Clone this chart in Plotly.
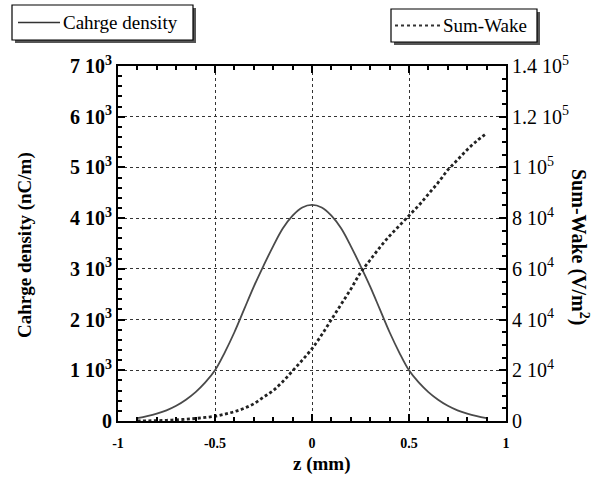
import plotly.graph_objects as go

# ---------------- data ----------------
z_density = [-0.9, -0.85, -0.8, -0.75, -0.7, -0.65, -0.6, -0.55, -0.5, -0.45,
             -0.4, -0.35, -0.3, -0.25, -0.2, -0.15, -0.1, -0.05, 0.0,
             0.05, 0.1, 0.15, 0.2, 0.25, 0.3, 0.35, 0.4, 0.45, 0.5,
             0.55, 0.6, 0.65, 0.7, 0.75, 0.8, 0.85, 0.9]
charge_density = [55, 95, 145, 210, 300, 420, 570, 760, 1000, 1350,
                  1750, 2200, 2650, 3060, 3450, 3800, 4050, 4210, 4260,
                  4210, 4050, 3800, 3450, 3060, 2650, 2200, 1750, 1350, 1000,
                  760, 570, 420, 300, 210, 145, 95, 55]

z_wake = z_density
sum_wake = [0, 50, 150, 280, 450, 700, 1000, 1400, 1900, 2700,
            3700, 5000, 6800, 9400, 12000, 15600, 19800, 24000, 28500,
            34000, 40000, 46000, 52000, 58500, 63500, 68500, 73000, 77000, 81000,
            85000, 89500, 94000, 99000, 103000, 107000, 110500, 113500]

x_ticks = [-1, -0.5, 0, 0.5, 1]
x_ticktext = ["-1", "-0.5", "0", "0.5", "1"]
y1_ticks = [0, 1000, 2000, 3000, 4000, 5000, 6000, 7000]
y1_ticktext = ["0"] + [f"{k} 10<sup>3</sup>" for k in range(1, 8)]
y2_ticks = [0, 20000, 40000, 60000, 80000, 100000, 120000, 140000]
y2_ticktext = ["0", "2 10<sup>4</sup>", "4 10<sup>4</sup>", "6 10<sup>4</sup>",
               "8 10<sup>4</sup>", "1 10<sup>5</sup>", "1.2 10<sup>5</sup>",
               "1.4 10<sup>5</sup>"]

legend1_text = "Cahrge density"
legend2_text = "Sum-Wake"
x_title = "z (mm)"
y1_title = "Cahrge density (nC/m)"
y2_title = "Sum-Wake (V/m<sup>2</sup>)"

# ---------------- layout geometry ----------------
W, H = 605, 486
L, R, T, B = 118, 506, 66, 421
FONT = "Liberation Serif, Times New Roman, serif"


def px(x):
    return (x - L) / (R - L)


def py(y):
    return (B - y) / (B - T)


fig = go.Figure()
fig.add_trace(go.Scatter(x=z_density, y=charge_density, mode="lines",
                         line=dict(color="#4a4a4a", width=1.8, shape="spline",
                                   smoothing=1),
                         name=legend1_text, showlegend=False))
fig.add_trace(go.Scatter(x=z_wake, y=sum_wake, mode="lines", yaxis="y2",
                         line=dict(color="#222222", width=2.8, dash="3px,2.5px",
                                   shape="spline"),
                         name=legend2_text, showlegend=False))

axis_common = dict(showline=True, linecolor="black", linewidth=2,
                   ticks="inside", tickcolor="black", ticklen=7, tickwidth=1.5,
                   zeroline=False)

fig.update_layout(
    width=W, height=H,
    margin=dict(l=L, r=W - R, t=T, b=H - B, pad=0),
    paper_bgcolor="white", plot_bgcolor="white",
    font=dict(family=FONT, color="black"),
    xaxis=dict(range=[-1, 1], tickvals=x_ticks, ticktext=x_ticktext,
               tickfont=dict(family=FONT, size=14, weight="bold"), mirror="ticks",
               ticklabelstandoff=8,
               showgrid=True, gridcolor="#333333", griddash="dot", gridwidth=1,
               minor=dict(dtick=0.1, ticks="inside", ticklen=4, tickcolor="black",
                          showgrid=False),
               **axis_common),
    yaxis=dict(range=[0, 7000], tickvals=y1_ticks, ticktext=y1_ticktext,
               tickfont=dict(family=FONT, size=20, weight="bold"),
               showgrid=True, gridcolor="#333333", griddash="dot", gridwidth=1,
               minor=dict(dtick=200, ticks="inside", ticklen=4, tickcolor="black",
                          showgrid=False),
               **axis_common),
    yaxis2=dict(range=[0, 140000], tickvals=y2_ticks, ticktext=y2_ticktext,
                overlaying="y", side="right", showgrid=False,
                tickfont=dict(family=FONT, size=20),
                minor=dict(dtick=5000, ticks="inside", ticklen=4, tickcolor="black",
                           showgrid=False),
                **axis_common),
    showlegend=False,
)

# axis titles
fig.add_annotation(text=x_title, xref="paper", yref="paper", x=px(322), y=py(464),
                   showarrow=False, font=dict(family=FONT, size=19, weight="bold"),
                   xanchor="center", yanchor="middle")
fig.add_annotation(text=y1_title, xref="paper", yref="paper", x=px(25), y=py(245),
                   showarrow=False, textangle=-90,
                   font=dict(family=FONT, size=19, weight="bold"),
                   xanchor="center", yanchor="middle")
fig.add_annotation(text=y2_title, xref="paper", yref="paper", x=px(580), y=py(247),
                   showarrow=False, textangle=90,
                   font=dict(family=FONT, size=20, weight="bold"),
                   xanchor="center", yanchor="middle")


# legend boxes with shadow
def legend_box(x0, y0, x1, y1, dash, label, lx0, lx1, tx):
    fig.add_shape(type="rect", xref="paper", yref="paper",
                  x0=px(x0 + 3), x1=px(x1 + 3), y0=py(y1 + 3), y1=py(y0 + 3),
                  fillcolor="#555555", line=dict(width=0), layer="above")
    fig.add_shape(type="rect", xref="paper", yref="paper",
                  x0=px(x0), x1=px(x1), y0=py(y1), y1=py(y0),
                  fillcolor="white", line=dict(color="black", width=1.2),
                  layer="above")
    ym = (y0 + y1) / 2
    fig.add_shape(type="line", xref="paper", yref="paper",
                  x0=px(lx0), x1=px(lx1), y0=py(ym), y1=py(ym),
                  line=dict(color="#333333", width=1.5 if dash == "solid" else 2,
                            dash=dash), layer="above")
    fig.add_annotation(text=label, xref="paper", yref="paper", x=px(tx), y=py(ym),
                       showarrow=False, xanchor="left", yanchor="middle",
                       font=dict(family=FONT, size=19))


legend_box(12, 5, 193, 40, "solid", legend1_text, 18, 60, 61)
legend_box(391, 9, 537, 42, "dot", legend2_text, 395, 440, 441)

fig.write_html("out.html")
